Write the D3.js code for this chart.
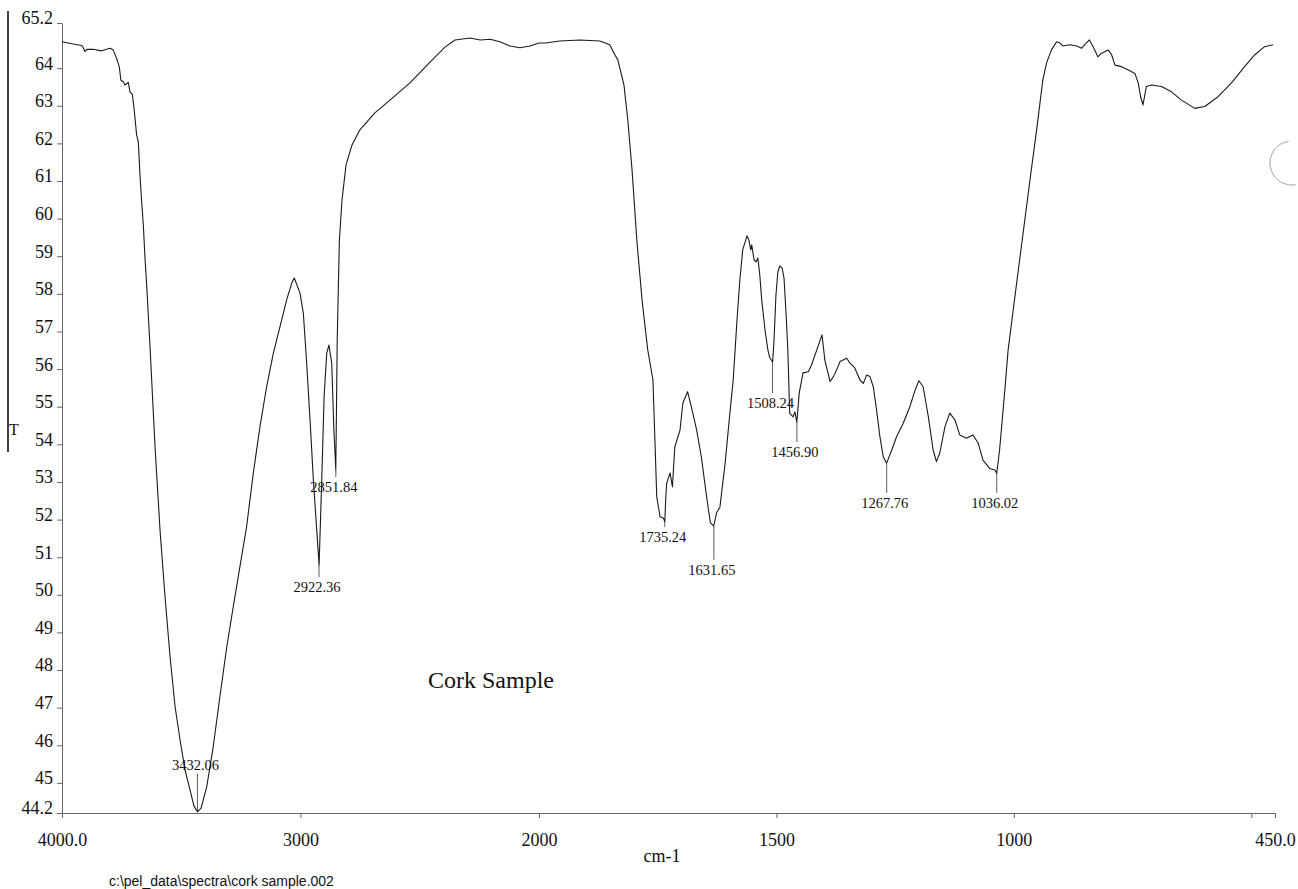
<!DOCTYPE html>
<html>
<head>
<meta charset="utf-8">
<script src="https://cdn.jsdelivr.net/npm/d3@7"></script>
<style>
    body { margin: 0; background: #fff; }
    svg { display: block; }
    .tick-label { font-family: "Liberation Serif", "Times New Roman", serif; font-size: 18px; fill: #111; }
    .peak-label { font-family: "Liberation Serif", "Times New Roman", serif; font-size: 14.5px; fill: #111; }
</style>
</head>
<body>
<svg id="chart" width="1298" height="889"></svg>
<script>
// spectrum: wavenumber (cm-1) and %T
var wavenumbers = [4000, 3953, 3917, 3911, 3904, 3896, 3869, 3834, 3799, 3785, 3771, 3760, 3753, 3743, 3736, 3722, 3715, 3705, 3698, 3687,
    3680, 3673, 3666, 3659, 3652, 3645, 3631, 3610, 3589, 3568, 3547, 3526, 3505, 3484, 3463, 3447, 3432, 3417, 3393, 3366,
    3338, 3309, 3282, 3254, 3226, 3198, 3170, 3142, 3114, 3086, 3058, 3037, 3026, 3002, 2988, 2974, 2960, 2946, 2932, 2922,
    2911, 2901, 2890, 2881, 2869, 2860, 2852, 2846, 2837, 2826, 2809, 2784, 2751, 2688, 2625, 2541, 2457, 2394, 2352, 2289,
    2247, 2205, 2164, 2122, 2080, 2038, 2000, 1987, 1956, 1914, 1872, 1851, 1840, 1834, 1821, 1813, 1804, 1794, 1783, 1771,
    1760, 1752, 1745, 1738, 1735, 1733, 1731, 1724, 1719, 1714, 1703, 1697, 1687, 1679, 1668, 1658, 1647, 1639, 1632, 1626,
    1619, 1608, 1598, 1591, 1583, 1577, 1571, 1562, 1558, 1554, 1552, 1547, 1543, 1539, 1535, 1531, 1524, 1518, 1514, 1508,
    1505, 1501, 1497, 1493, 1488, 1484, 1479, 1476, 1472, 1465, 1461, 1457, 1452, 1444, 1433, 1426, 1415, 1404, 1398, 1387,
    1380, 1373, 1366, 1352, 1345, 1335, 1324, 1317, 1310, 1303, 1296, 1289, 1282, 1275, 1268, 1257, 1247, 1233, 1219, 1208,
    1200, 1191, 1180, 1170, 1163, 1156, 1145, 1135, 1124, 1114, 1100, 1086, 1075, 1065, 1051, 1040, 1036, 1030, 1019, 1012,
    996, 966, 952, 939, 931, 921, 910, 903, 897, 882, 868, 857, 851, 841, 833, 823, 816, 801, 794, 787,
    773, 759, 745, 738, 733, 728, 721, 710, 689, 668, 647, 619, 598, 570, 542, 514, 493, 472, 454];

var transmittance = [64.70, 64.64, 64.60, 64.54, 64.44, 64.50, 64.50, 64.46, 64.53, 64.48, 64.26, 64.04, 63.68, 63.64, 63.55, 63.62, 63.37, 63.30, 62.93, 62.22,
    62.04, 61.16, 60.45, 59.83, 58.95, 58.24, 56.60, 53.94, 51.72, 49.95, 48.36, 47.03, 46.14, 45.34, 44.81, 44.39, 44.23, 44.33, 44.90, 45.96,
    47.29, 48.62, 49.68, 50.75, 51.81, 53.23, 54.47, 55.53, 56.42, 57.13, 57.84, 58.28, 58.42, 58.02, 57.48, 56.15, 54.65, 53.05, 51.72, 50.79,
    53.05, 55.27, 56.42, 56.64, 56.15, 54.38, 53.32, 56.77, 59.43, 60.49, 61.43, 61.96, 62.36, 62.81, 63.15, 63.61, 64.16, 64.56, 64.75, 64.80,
    64.75, 64.77, 64.70, 64.59, 64.54, 64.59, 64.67, 64.67, 64.72, 64.75, 64.72, 64.62, 64.35, 64.22, 63.55, 62.62, 61.29, 59.43, 57.84, 56.51,
    55.71, 52.60, 52.07, 52.04, 51.94, 52.60, 52.97, 53.24, 52.87, 53.93, 54.38, 55.10, 55.40, 54.99, 54.38, 53.66, 52.60, 51.91, 51.83, 52.18,
    52.33, 53.50, 54.83, 55.71, 57.31, 58.37, 59.17, 59.54, 59.43, 59.17, 59.30, 58.90, 58.85, 58.95, 58.50, 57.84, 57.04, 56.51, 56.30, 56.19,
    56.78, 57.97, 58.58, 58.74, 58.69, 58.42, 57.31, 56.51, 54.83, 54.73, 54.86, 54.59, 55.36, 55.90, 55.93, 56.11, 56.51, 56.91, 56.24, 55.67,
    55.80, 55.98, 56.20, 56.29, 56.16, 56.03, 55.71, 55.62, 55.84, 55.80, 55.53, 54.91, 54.20, 53.67, 53.50, 53.85, 54.20, 54.56, 55.00, 55.44,
    55.69, 55.53, 54.73, 53.85, 53.54, 53.77, 54.47, 54.83, 54.65, 54.25, 54.16, 54.25, 54.03, 53.58, 53.36, 53.32, 53.23, 53.85, 55.44, 56.51,
    58.10, 61.03, 62.36, 63.68, 64.14, 64.48, 64.70, 64.67, 64.59, 64.62, 64.59, 64.53, 64.62, 64.75, 64.57, 64.30, 64.39, 64.48, 64.35, 64.08,
    64.04, 63.95, 63.86, 63.60, 63.24, 63.02, 63.51, 63.55, 63.51, 63.37, 63.15, 62.93, 62.98, 63.24, 63.60, 64.04, 64.35, 64.57, 64.62];

// labelled peaks: position, %T at the minimum, %T where the marker line stops
var peakWn     = [3432.06, 2922.36, 2851.84, 1735.24, 1631.65, 1508.24, 1456.90, 1267.76, 1036.02];
var peakT      = [44.23, 50.79, 53.32, 51.94, 51.83, 56.19, 54.59, 53.50, 53.23];
var peakLabelT = [45.24, 50.47, 53.13, 51.80, 50.93, 55.36, 54.06, 52.71, 52.71];

var yTicks  = [65.2, 64, 63, 62, 61, 60, 59, 58, 57, 56, 55, 54, 53, 52, 51, 50, 49, 48, 47, 46, 45, 44.2];
var xTicks  = [4000, 3000, 2000, 1500, 1000, 500, 450];
var xLabels = ["4000.0", "3000", "2000", "1500", "1000", "", "450.0"];

var svg = d3.select("#chart");

// instrument plot: scale doubles below 2000 cm-1
var x = d3.scaleLinear().domain([4000, 2000, 450]).range([62, 539, 1275]);
var y = d3.scaleLinear().domain([44.2, 65.2]).range([813, 23]);

function serif(sel, size) {
    return sel.style("font-family", '"Liberation Serif", "Times New Roman", serif')
        .style("font-size", size + "px")
        .style("fill", "#111");
}

// y axis
var yAxis = svg.append("g")
    .attr("transform", "translate(" + x(4000) + ",0)")
    .call(d3.axisLeft(y).tickValues(yTicks).tickSize(5).tickSizeOuter(0)
        .tickFormat(function(d) { return d === 65.2 || d === 44.2 ? d.toFixed(1) : d; }));
yAxis.select(".domain").attr("stroke", "#666");
yAxis.selectAll(".tick line").attr("stroke", "#666");
yAxis.selectAll(".tick text")
    .attr("class", "tick-label")
    .attr("x", -9)
    .attr("dy", "0.05em");

// x axis
var xAxis = svg.append("g")
    .attr("transform", "translate(0," + y(44.2) + ")")
    .call(d3.axisBottom(x).tickValues(xTicks).tickSize(5).tickSizeOuter(0)
        .tickFormat(function(d, i) { return xLabels[i]; }));
xAxis.select(".domain").attr("stroke", "#666");
xAxis.selectAll(".tick line").attr("stroke", "#666");
xAxis.selectAll(".tick text")
    .attr("class", "tick-label")
    .attr("y", 33)
    .attr("dy", 0);

// spectrum
var pts = wavenumbers.map(function(w, i) { return [w, transmittance[i]]; });
var line = d3.line()
    .x(function(d) { return x(d[0]); })
    .y(function(d) { return y(d[1]); });

svg.append("path")
    .attr("d", line(pts))
    .style("fill", "none")
    .style("stroke", "#1a1a1a")
    .style("stroke-width", 1.1)
    .style("stroke-linejoin", "round");

// peak markers + labels
peakWn.forEach(function(w, i) {
    var px = x(w),
        y1 = y(peakT[i]),
        y2 = y(peakLabelT[i]),
        above = y2 < y1;

    svg.append("line")
        .attr("x1", px).attr("x2", px)
        .attr("y1", y1).attr("y2", y2)
        .style("stroke", "#333")
        .style("stroke-width", 0.8);

    svg.append("text")
        .attr("class", "peak-label")
        .attr("x", px - 2)
        .attr("y", above ? y2 - 4 : y2 + 15)
        .attr("text-anchor", "middle")
        .text(w.toFixed(2));
});

// annotations
serif(svg.append("text"), 24)
    .attr("x", 491).attr("y", 688)
    .attr("text-anchor", "middle")
    .text("Cork Sample");

serif(svg.append("text"), 18)
    .attr("x", 662).attr("y", 862)
    .attr("text-anchor", "middle")
    .text("cm-1");

svg.append("text")
    .attr("x", 109).attr("y", 886)
    .style("font-family", '"Liberation Sans", Arial, sans-serif')
    .style("font-size", "14px")
    .style("fill", "#111")
    .text("c:\\pel_data\\spectra\\cork sample.002");

// ordinate marker at far left
svg.append("line")
    .attr("x1", 8).attr("x2", 8)
    .attr("y1", 11).attr("y2", 452)
    .style("stroke", "#000")
    .style("stroke-width", 1.5);

serif(svg.append("text"), 16)
    .attr("x", 9).attr("y", 435)
    .text("T");

// faint scan mark on the right edge
var arc = d3.arc()
    .innerRadius(22).outerRadius(22)
    .startAngle(Math.PI * 0.95).endAngle(Math.PI * 1.95);
svg.append("path")
    .attr("transform", "translate(1292,163)")
    .attr("d", arc())
    .style("fill", "none")
    .style("stroke", "#bbb")
    .style("stroke-width", 1);
</script>
</body>
</html>
